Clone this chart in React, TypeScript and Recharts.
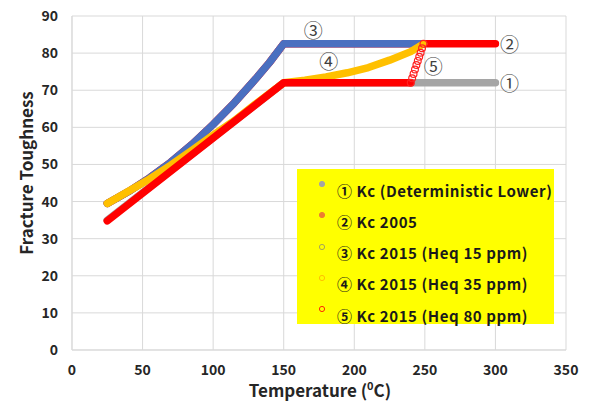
import React from 'react';
import { ComposedChart, Line, Scatter, XAxis, YAxis, CartesianGrid, ReferenceDot } from 'recharts';

// ---- data (Temperature °C, Fracture Toughness) ----
const lowerT = [25, 150, 300];
const lowerK = [35, 72, 72];

const kc2005T = [25, 40, 55, 70, 85, 100, 115, 130, 140, 150, 200, 250, 300];
const kc2005K = [39.5, 42.7, 46.4, 50.6, 55.4, 60.8, 66.6, 73, 77.5, 82.5, 82.5, 82.5, 82.5];

const heq15T = [25, 40, 55, 70, 85, 100, 115, 130, 140, 150, 200, 249];
const heq15K = [39.5, 42.7, 46.4, 50.6, 55.4, 60.8, 66.6, 73, 77.5, 82.5, 82.5, 82.5];

const heq35T = [25, 40, 55, 70, 85, 100, 115, 130, 150, 165, 180, 195, 210, 225, 240, 249];
const heq35K = [39.5, 42.8, 46.1, 49.8, 53.8, 57.9, 61.8, 66.3, 72, 72.7, 73.6, 74.7, 76.1, 78.1, 80.4, 82.5];

const heq80T = [25, 150, 240];
const heq80K = [34.8, 72, 72];
const heq80StepT = [240, 241, 242, 243, 244, 245, 246, 247, 248, 249];
const heq80StepK = [72, 73.2, 74.4, 75.6, 76.8, 77.9, 79.0, 80.1, 81.3, 82.5];

const xTicks = [0, 50, 100, 150, 200, 250, 300, 350];
const yTicks = [0, 10, 20, 30, 40, 50, 60, 70, 80, 90];

const legendLabels = [
  '① Kc (Deterministic Lower)',
  '② Kc 2005',
  '③ Kc 2015 (Heq 15 ppm)',
  '④ Kc 2015 (Heq 35 ppm)',
  '⑤ Kc 2015 (Heq 80 ppm)',
];
const legendMarkers = [
  { fill: '#a5a5a5', stroke: '#a5a5a5' },
  { fill: '#ed7d31', stroke: '#ed7d31' },
  { fill: 'none', stroke: '#a5a55a' },
  { fill: 'none', stroke: '#ffc000' },
  { fill: 'none', stroke: '#ff2a00' },
];

const annotationText = ['①', '②', '③', '④', '⑤'];
const annotationT = [310, 310, 171, 182, 256];
const annotationK = [72, 82.5, 86.3, 78, 76.7];

const zip = (t: number[], k: number[]) => t.map((x, i) => ({ t: x, k: k[i] }));

const lowerData = zip(lowerT, lowerK);
const kc2005Data = zip(kc2005T, kc2005K);
const heq15Data = zip(heq15T, heq15K);
const heq35Data = zip(heq35T, heq35K);
const heq80Data = zip(heq80T, heq80K);
const heq80StepData = zip(heq80StepT, heq80StepK);

const FONT = '"Noto Sans CJK KR", "Noto Sans", sans-serif';
const GRID = '#d9d9d9';
const TEXT = '#262626';

const lineProps = {
  dataKey: 'k',
  dot: false,
  activeDot: false,
  isAnimationActive: false,
  strokeWidth: 7.5,
  strokeLinecap: 'round' as const,
  strokeLinejoin: 'round' as const,
  type: 'linear' as const,
  legendType: 'none' as const,
};

const OpenCircle = (p: any) => (
  <circle cx={p.cx} cy={p.cy} r={3.4} fill="none" stroke="#ff2020" strokeWidth={1.2} />
);

const YLabel = (props: any) => {
  const vb = props.viewBox || {};
  const cx = 25;
  const cy = vb.y + vb.height / 2 - 10;
  return (
    <text x={cx} y={cy} transform={`rotate(-90 ${cx} ${cy})`} textAnchor="middle" dominantBaseline="central"
      fontFamily={FONT} fontWeight={700} fontSize={17} fill={TEXT}>
      Fracture Toughness
    </text>
  );
};

const XLabel = (props: any) => {
  const vb = props.viewBox || {};
  const cx = vb.x + vb.width / 2 + 1;
  const y = 397;
  return (
    <text x={cx} y={y} textAnchor="middle" fontFamily={FONT} fontWeight={700} fontSize={17} fill={TEXT}>
      Temperature  (<tspan fontSize={11} dy={-7}>0</tspan><tspan dy={7}>C)</tspan>
    </text>
  );
};

export default function App() {
  return (
    <div style={{ position: 'absolute', left: 0, top: 0, width: 604, height: 403, background: '#fff' }}>
      <ComposedChart width={604} height={403} margin={{ top: 16, right: 38, left: 12, bottom: 0 }}>
        <CartesianGrid stroke={GRID} strokeWidth={1} verticalValues={xTicks} horizontalValues={yTicks} />
        <XAxis
          type="number"
          dataKey="t"
          domain={[0, 350]}
          ticks={xTicks}
          height={53}
          tickLine={false}
          tickSize={6}
          tickMargin={9}
          axisLine={{ stroke: GRID }}
          tick={{ fontFamily: FONT, fontWeight: 700, fontSize: 14, fill: TEXT }}
          label={<XLabel />}
          allowDuplicatedCategory={false}
        />
        <YAxis
          type="number"
          dataKey="k"
          domain={[0, 90]}
          ticks={yTicks}
          width={60}
          tickLine={false}
          tickSize={6}
          tickMargin={8}
          axisLine={{ stroke: GRID }}
          tick={{ fontFamily: FONT, fontWeight: 700, fontSize: 14, fill: TEXT }}
          label={<YLabel />}
        />
        <Line {...lineProps} data={lowerData} stroke="#a5a5a5" />
        <Line {...lineProps} data={kc2005Data} stroke="#ff0000" />
        <Line {...lineProps} data={heq15Data} stroke="#4a6fc0" />
        <Line {...lineProps} data={heq35Data} stroke="#ffc000" />
        <Line {...lineProps} data={heq80Data} stroke="#ff0000" />
        <Scatter data={heq80StepData} dataKey="k" shape={OpenCircle} isAnimationActive={false} legendType="none" />
        {annotationText.map((s, i) => (
          <ReferenceDot
            key={s}
            x={annotationT[i]}
            y={annotationK[i]}
            r={0}
            isFront
            shape={(p: any) => (
              <text x={p.cx} y={p.cy} textAnchor="middle" dominantBaseline="central"
                fontFamily={FONT} fontSize={19} fill="#404040">{s}</text>
            )}
          />
        ))}
      </ComposedChart>
      <div
        style={{
          position: 'absolute',
          left: 297,
          top: 169,
          width: 257,
          height: 155,
          background: '#ffff00',
          fontFamily: FONT,
          fontWeight: 700,
          fontSize: 15,
          letterSpacing: 0.6,
          color: '#1a1a1a',
        }}
      >
        {legendLabels.map((lab, i) => (
          <div key={lab} style={{ position: 'absolute', left: 20, top: 21 + i * 31.3 - 11, height: 22, display: 'flex', alignItems: 'center', whiteSpace: 'nowrap' }}>
            <svg width={10} height={22} style={{ marginRight: 10, marginTop: -12 }}>
              <circle cx={5} cy={11} r={2.6} fill={legendMarkers[i].fill} stroke={legendMarkers[i].stroke} strokeWidth={1} />
            </svg>
            <span>{lab}</span>
          </div>
        ))}
      </div>
    </div>
  );
}
